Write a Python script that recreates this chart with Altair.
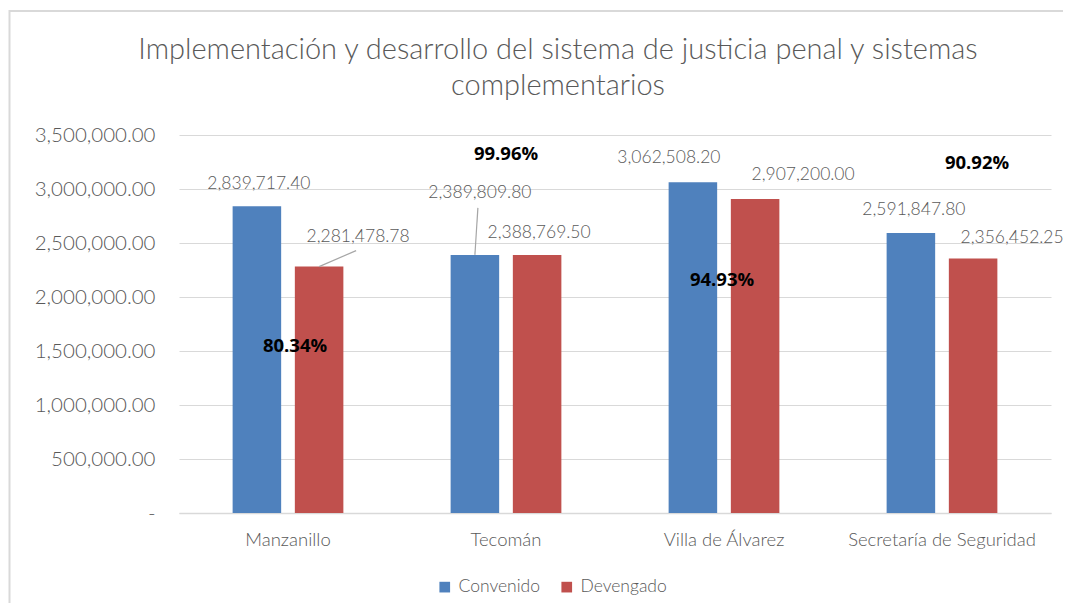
import altair as alt
import pandas as pd

# ---------------- data ----------------
categories = ["Manzanillo", "Tecomán", "Villa de Álvarez", "Secretaría de Seguridad"]
series_names = ["Convenido", "Devengado"]
convenido = [2839717.40, 2389809.80, 3062508.20, 2591847.80]
devengado = [2281478.78, 2388769.50, 2907200.00, 2356452.25]
y_ticks = [0, 500000, 1000000, 1500000, 2000000, 2500000, 3000000, 3500000]
title_lines = ["Implementación y desarrollo del sistema de justicia penal y sistemas",
               "complementarios"]
colors = ["#4F81BD", "#C0504D"]

# ---------------- styling / layout constants ----------------
FONT = "Lato"
GRAY = "#595959"
GRID = "#d9d9d9"
W, H = 872, 378
PAD_IN, PAD_OUT, PAD_OFF = 0.492, 0.246, 0.22
Y_MAX = 3500000

# label offsets (px) relative to bar top centre
value_label_offsets = {
    ("Manzanillo", "Convenido"): (2, -22),
    ("Manzanillo", "Devengado"): (39, -30),
    ("Tecomán", "Convenido"): (5, -62),
    ("Tecomán", "Devengado"): (2, -22),
    ("Villa de Álvarez", "Convenido"): (-24, -24),
    ("Villa de Álvarez", "Devengado"): (48, -24),
    ("Secretaría de Seguridad", "Convenido"): (3, -23),
    ("Secretaría de Seguridad", "Devengado"): (39, -21),
}
# percentage label offsets (px) relative to group centre / Devengado top
pct_label_offsets = {
    "Manzanillo": (7, 79),
    "Tecomán": (0, -101),
    "Villa de Álvarez": (-2, 81),
    "Secretaría de Seguridad": (35, -96),
}
# leader lines: (category, series, dx px, dy px) from bar top to label
leaders = [("Manzanillo", "Devengado", 37, -16), ("Tecomán", "Convenido", 3, -47)]

# ---------------- tables ----------------
rows = []
for i, c in enumerate(categories):
    rows.append({"cat": c, "series": "Convenido", "value": convenido[i]})
    rows.append({"cat": c, "series": "Devengado", "value": devengado[i]})
df = pd.DataFrame(rows)

pct_df = pd.DataFrame({"cat": categories, "value": devengado})
pct_df["label"] = [f"{d / c * 100:.2f}%" for d, c in zip(devengado, convenido)]

# bar centre positions in "category units" for leader layer
band_frac = 1 - PAD_IN
off_step = band_frac / (2 - PAD_OFF)
centre_shift = {"Convenido": -off_step / 2, "Devengado": off_step / 2}
step_px = W / len(categories)
lrows = []
for c, s, dxp, dyp in leaders:
    i = categories.index(c)
    v = (convenido if s == "Convenido" else devengado)[i]
    x0 = i + 0.5 + centre_shift[s]
    lrows.append({"x1": x0, "value": v,
                  "x2": x0 + dxp / step_px, "value2": v - dyp * Y_MAX / H})
leader_df = pd.DataFrame(lrows)

# ---------------- encodings ----------------
x_enc = alt.X("cat:N", sort=categories,
              scale=alt.Scale(domain=categories, paddingInner=PAD_IN, paddingOuter=PAD_OUT),
              axis=alt.Axis(title=None, labelAngle=0, ticks=False, grid=False,
                            domainColor=GRID, domainWidth=1.5, labelLimit=0,
                            labelColor=GRAY, labelFont=FONT, labelFontSize=18.5,
                            labelFontWeight=300, labelPadding=17))
xo_enc = alt.XOffset("series:N", sort=series_names,
                     scale=alt.Scale(domain=series_names, paddingInner=PAD_OFF, paddingOuter=0))
y_axis = alt.Axis(title=None, values=y_ticks, ticks=False, domain=False,
                  grid=True, gridColor=GRID, gridWidth=1,
                  labelColor=GRAY, labelFont=FONT, labelFontSize=20.5, labelFontWeight=300,
                  labelPadding=24, labelLimit=0,
                  labelExpr="datum.value == 0 ? '-\u00a0\u00a0\u00a0' : format(datum.value, ',.2f')")
y_enc = alt.Y("value:Q", scale=alt.Scale(domain=[0, Y_MAX], nice=False), axis=y_axis)

bars = alt.Chart(df).mark_bar().encode(
    x=x_enc, xOffset=xo_enc, y=y_enc,
    color=alt.Color("series:N", sort=series_names,
                    scale=alt.Scale(domain=series_names, range=colors),
                    legend=alt.Legend(title=None, orient="none", legendX=257, legendY=443,
                                      direction="horizontal", symbolType="square",
                                      symbolSize=114, symbolStrokeWidth=0,
                                      labelFont=FONT, labelFontSize=17.5, labelFontWeight=300,
                                      labelColor=GRAY, labelOffset=5, columnPadding=17)),
)

value_layers = []
for (c, s), (dx, dy) in value_label_offsets.items():
    value_layers.append(
        alt.Chart(df).transform_filter((alt.datum.cat == c) & (alt.datum.series == s))
        .mark_text(dx=dx, dy=dy, baseline="middle", align="center", font=FONT,
                   fontSize=17.5, fontWeight=300, color=GRAY)
        .encode(x=x_enc, xOffset=xo_enc, y=y_enc,
                text=alt.Text("value:Q", format=",.2f"))
    )

pct_layers = []
for c, (dx, dy) in pct_label_offsets.items():
    pct_layers.append(
        alt.Chart(pct_df).transform_filter(alt.datum.cat == c)
        .mark_text(dx=dx, dy=dy, baseline="middle", align="center", font="Open Sans",
                   fontSize=18.5, fontWeight="bold", color="#000000")
        .encode(x=x_enc, y=y_enc, text="label:N")
    )

frame = alt.Chart(pd.DataFrame({"f": [0]})).mark_rect(
    filled=False, stroke=GRID, strokeWidth=2
).encode(x=alt.value(-169.5), x2=alt.value(W + 60), y=alt.value(-124), y2=alt.value(H + 150))

title = alt.Chart(pd.DataFrame({"f": [0]})).mark_text(
    text=title_lines, font=FONT, fontSize=29, fontWeight=300, color=GRAY,
    align="center", baseline="alphabetic", lineHeight=36
).encode(x=alt.value(379), y=alt.value(-76.5))

leader_layer = alt.Chart(leader_df).mark_rule(color="#a6a6a6", strokeWidth=1.2).encode(
    x=alt.X("x1:Q", scale=alt.Scale(domain=[0, len(categories)], nice=False, zero=False), axis=None),
    x2="x2:Q",
    y=y_enc,
    y2="value2:Q",
)

inner = alt.layer(frame, bars, *value_layers, *pct_layers, title)

chart = alt.layer(inner, leader_layer).resolve_scale(x="independent").properties(
    width=W, height=H,
    autosize=alt.AutoSizeParams(type="none"),
    padding={"left": 171, "top": 127, "right": 12, "bottom": 90},
).configure_view(stroke=None)

chart.save("out.html", embed_options={"renderer": "svg", "actions": False})
